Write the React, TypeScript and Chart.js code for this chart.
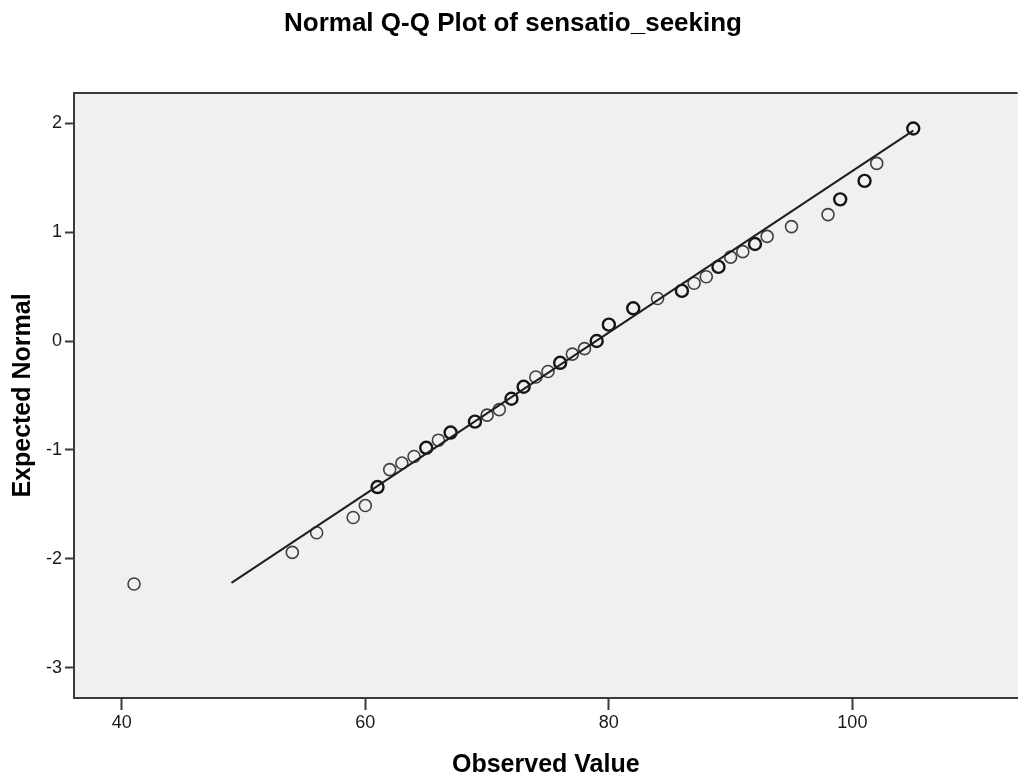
import React, { useEffect, useRef } from 'react';
import { Chart, registerables } from 'chart.js';

Chart.register(...registerables);

// Observed scores (x) and their expected normal quantiles (y)
const observedValues = [41, 54, 56, 59, 60, 61, 62, 63, 64, 65, 66, 67, 69, 70, 71, 72, 73, 74, 75, 76, 77, 78, 79, 80, 82, 84, 86, 87, 88, 89, 90, 91, 92, 93, 95, 98, 99, 101, 102, 105];
const expectedNormal = [-2.23, -1.94, -1.76, -1.62, -1.51, -1.34, -1.18, -1.12, -1.06, -0.98, -0.91, -0.84, -0.74, -0.68, -0.63, -0.53, -0.42, -0.33, -0.28, -0.2, -0.12, -0.07, 0.0, 0.15, 0.3, 0.39, 0.46, 0.53, 0.59, 0.68, 0.77, 0.82, 0.89, 0.96, 1.05, 1.16, 1.3, 1.47, 1.63, 1.95];
// points that appear darker (overlapping repeated cases)
const overlapping = [0, 0, 0, 0, 0, 1, 0, 0, 0, 1, 0, 1, 1, 0, 0, 1, 1, 0, 0, 1, 0, 0, 1, 1, 1, 0, 1, 0, 0, 1, 0, 0, 1, 0, 0, 0, 1, 1, 0, 1];

// Reference line endpoints
const fitLineX = [49, 105];
const fitLineY = [-2.22, 1.93];

const xTickValues = [40, 60, 80, 100];
const yTickValues = [-3, -2, -1, 0, 1, 2];

const FONT = "'Liberation Sans', Arial, sans-serif";

export default function App() {
  const canvasRef = useRef<HTMLCanvasElement | null>(null);

  useEffect(() => {
    document.body.style.margin = '0';
    const canvas = canvasRef.current;
    if (!canvas) return;

    const plotBg = {
      id: 'plotBg',
      beforeDraw(chart: any) {
        const { ctx, chartArea: a } = chart;
        ctx.save();
        ctx.fillStyle = '#f0f0f0';
        ctx.fillRect(a.left, a.top, a.right - a.left, a.bottom - a.top);
        ctx.restore();
      },
      afterDraw(chart: any) {
        const { ctx, chartArea: a } = chart;
        ctx.save();
        ctx.strokeStyle = '#3a3a3a';
        ctx.lineWidth = 2;
        ctx.beginPath();
        ctx.moveTo(a.left - 1, a.top);
        ctx.lineTo(a.right, a.top);
        ctx.stroke();
        ctx.restore();
      },
    };

    const points = observedValues.map((x, i) => ({ x, y: expectedNormal[i] }));
    const line = fitLineX.map((x, i) => ({ x, y: fitLineY[i] }));

    const chart = new Chart(canvas, {
      type: 'scatter',
      data: {
        datasets: [
          {
            type: 'line',
            data: line,
            borderColor: '#1e1e1e',
            borderWidth: 2,
            pointRadius: 0,
            fill: false,
            showLine: true,
          } as any,
          {
            type: 'scatter',
            data: points,
            pointRadius: 6,
            pointHoverRadius: 6,
            backgroundColor: 'rgba(0,0,0,0)',
            borderColor: overlapping.map((o) => (o ? '#151515' : '#404040')),
            borderWidth: overlapping.map((o) => (o ? 2.4 : 1.6)),
          } as any,
        ],
      },
      options: {
        responsive: false,
        animation: false,
        layout: { padding: 0 },
        plugins: {
          legend: { display: false },
          tooltip: { enabled: false },
          title: {
            display: true,
            text: 'Normal Q-Q Plot of sensatio_seeking',
            color: '#000',
            font: { family: FONT, size: 26, weight: 'bold' },
            padding: { top: 8.4, bottom: 53.4 },
          },
        },
        scales: {
          x: {
            type: 'linear',
            min: 36.07,
            max: 113.57,
            afterBuildTicks: (axis: any) => {
              axis.ticks = xTickValues.map((v) => ({ value: v }));
            },
            afterFit: (axis: any) => {
              axis.height = 82;
              axis.paddingLeft = 0;
              axis.paddingRight = 0;
            },
            ticks: {
              color: '#1a1a1a',
              font: { family: FONT, size: 18 },
              padding: 2,
              autoSkip: false,
              maxRotation: 0,
            },
            grid: {
              drawOnChartArea: false,
              drawTicks: true,
              tickLength: 12,
              tickWidth: 2,
              tickColor: '#3a3a3a',
            },
            border: { display: true, color: '#3a3a3a', width: 2 },
            title: {
              display: true,
              text: 'Observed Value',
              color: '#000',
              font: { family: FONT, size: 25, weight: 'bold' },
              padding: { top: 0, bottom: 0 },
            },
          },
          y: {
            type: 'linear',
            min: -3.276,
            max: 2.276,
            afterBuildTicks: (axis: any) => {
              axis.ticks = yTickValues.map((v) => ({ value: v }));
            },
            afterFit: (axis: any) => {
              axis.width = 74;
              axis.paddingTop = 0;
              axis.paddingBottom = 0;
            },
            ticks: {
              color: '#1a1a1a',
              font: { family: FONT, size: 18 },
              padding: 3,
              autoSkip: false,
            },
            grid: {
              drawOnChartArea: false,
              drawTicks: true,
              tickLength: 9,
              tickWidth: 2,
              tickColor: '#3a3a3a',
            },
            border: { display: true, color: '#3a3a3a', width: 2 },
            title: {
              display: true,
              text: 'Expected Normal',
              color: '#000',
              font: { family: FONT, size: 25, weight: 'bold' },
              padding: { top: 8, bottom: 0 },
            },
          },
        },
      } as any,
      plugins: [plotBg],
    });

    return () => {
      chart.destroy();
    };
  }, []);

  return (
    <div style={{ width: 1026, height: 780 }}>
      <canvas ref={canvasRef} width={1026} height={780} />
    </div>
  );
}
